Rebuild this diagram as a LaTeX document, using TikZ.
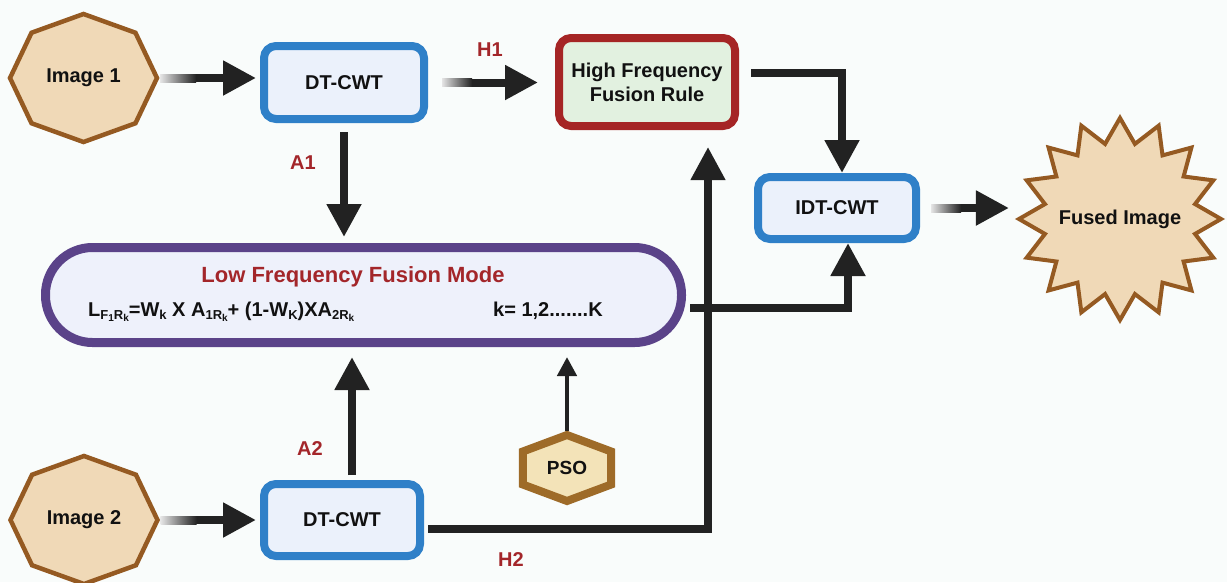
\documentclass[tikz,border=0pt]{standalone}
\usepackage{fontspec}
\setmainfont{Liberation Sans}
\usetikzlibrary{arrows.meta,shapes.geometric}
\definecolor{bgc}{HTML}{F9FCFB}
\definecolor{arrowc}{HTML}{222222}
\definecolor{txtc}{HTML}{111111}
\definecolor{redc}{HTML}{A3262A}
\definecolor{imgf}{HTML}{F0D9B7}
\definecolor{imgd}{HTML}{955A22}
\definecolor{blued}{HTML}{2F80C8}
\definecolor{bluef}{HTML}{EBF1FB}
\definecolor{hfd}{HTML}{A52525}
\definecolor{hff}{HTML}{E2F1E0}
\definecolor{lfd}{HTML}{5B4389}
\definecolor{lff}{HTML}{EEF1FB}
\definecolor{psof}{HTML}{F3E3B8}
\definecolor{psod}{HTML}{9E6B28}
\newcommand\sbx[1]{\raisebox{-0.35ex}{\fontsize{13}{13}\selectfont #1}}
\newcommand\ssbx[1]{\raisebox{-0.3ex}{\fontsize{10}{10}\selectfont #1}}
\begin{document}
\begin{tikzpicture}[x=1pt,y=-1pt,
  txt/.style={font=\bfseries\fontsize{20}{24}\selectfont, text=txtc},
  lbl/.style={font=\bfseries\fontsize{20}{24}\selectfont, text=redc},
  bluebox/.style={draw=blued, fill=bluef, line width=8pt, rounded corners=12pt, minimum width=160pt, minimum height=73pt, txt},
  oct/.style={draw=imgd, fill=imgf, line width=4.5pt, line join=miter},
  hexs/.style={draw=psod, fill=psof, line width=8pt, line join=miter},
  holder/.style={txt, inner sep=0pt},
  arr/.style={draw=arrowc, line width=8pt, -{Triangle[length=33pt,width=33pt]}},
  thinarr/.style={draw=arrowc, line width=4.5pt, -{Triangle[length=19pt,width=19pt]}},
  fadestart/.style={left color=arrowc!12, right color=arrowc}
]
\fill[bgc] (0,0) rectangle (1227,582);
\useasboundingbox (0,0) rectangle (1227,582);

% Image 1
\coordinate (c1) at (83.5,78);
\draw[oct, shift={(c1)}] (0:73.5 and 64) \foreach \a in {45,90,...,315} { -- (\a:73.5 and 64)} -- cycle;
\node[holder, minimum width=147pt, minimum height=128pt] (img1) at (c1) {Image 1};

% Image 2
\coordinate (c2) at (84,520);
\draw[oct, shift={(c2)}] (0:73.5 and 64) \foreach \a in {45,90,...,315} { -- (\a:73.5 and 64)} -- cycle;
\node[holder, minimum width=147pt, minimum height=128pt] (img2) at (c2) {Image 2};

% boxes
\node[bluebox] (dt1) at (344,82.5) {DT-CWT};
\node[bluebox, minimum width=156pt, minimum height=72pt] (dt2) at (342,520) {DT-CWT};
\node[bluebox, minimum width=158pt, minimum height=62pt] (idt) at (837,208) {IDT-CWT};
\node[draw=hfd, fill=hff, line width=8pt, rounded corners=12pt, minimum width=176pt, minimum height=88pt, txt, align=center] (hf) at (647,82) {High Frequency\\Fusion Rule};

% fused image star
\node[star, star points=16, star point ratio=1.32, minimum size=202pt, inner sep=0pt, draw=imgd, fill=imgf, line width=4pt, txt] (fused) at (1120,219) {\makebox[0pt]{Fused Image}};

% low frequency pill
\node[draw=lfd, fill=lff, line width=9pt, rounded corners=47pt, minimum width=636pt, minimum height=95pt] (lf) at (363.5,295) {};
\node[font=\bfseries\fontsize{22}{26}\selectfont, text=redc] (lftitle) at (353,277) {Low Frequency Fusion Mode};
\node[txt, anchor=base west, inner sep=0pt] (lfeq) at (88,316) {L\sbx{F\ssbx{1}R\ssbx{k}}=W\sbx{k} X A\sbx{1R\ssbx{k}}+ (1-W\sbx{K})XA\sbx{2R\ssbx{k}}};
\node[txt, anchor=base west, inner sep=0pt] (lfk) at (493,316) {k= 1,2.......K};

% PSO
\coordinate (c3) at (567,468);
\draw[hexs, shift={(c3)}] (30:51 and 33) \foreach \a in {90,150,...,330} { -- (\a:51 and 33)} -- cycle;
\node[holder, font=\bfseries\fontsize{19}{22}\selectfont, minimum width=95pt, minimum height=74pt] (pso) at (c3) {PSO};

% labels
\node[lbl] (h1) at (490,50) {H1};
\node[lbl] (a1) at (303,163) {A1};
\node[lbl] (a2) at (310,449) {A2};
\node[lbl] (h2) at (511,560) {H2};

% connectors
\draw[arr, shorten <=3pt, shorten >=4pt] (img1.east) -- (img1.east -| dt1.west);
\shade[fadestart] ([xshift=3pt,yshift=4pt]img1.east) rectangle ++(36,8);
\draw[arr, shorten <=3pt, shorten >=4pt] (img2.east) -- (img2.east -| dt2.west);
\shade[fadestart] ([xshift=3pt,yshift=4pt]img2.east) rectangle ++(36,8);
\draw[arr, shorten <=14pt, shorten >=17pt] (dt1.east) -- (dt1.east -| hf.west);
\shade[fadestart] ([xshift=14pt,yshift=4pt]dt1.east) rectangle ++(30,8);
\draw[arr, shorten <=11pt, shorten >=6pt] (idt.east) -- (idt.east -| fused.west);
\shade[fadestart] ([xshift=11pt,yshift=4pt]idt.east) rectangle ++(30,8);
\draw[arr, shorten <=9pt, shorten >=6pt] (dt1.south) -- (dt1.south |- lf.north);
\draw[arr, shorten <=12pt] ([yshift=9pt]hf.east) -| ([xshift=5pt]idt.north);
\draw[arr, shorten <=4pt] ([yshift=-13pt]lf.east) -| ([xshift=11pt]idt.south);
\draw[arr, shorten <=5pt, shorten >=10pt] ([xshift=10pt]dt2.north) -- ([xshift=10pt]dt2.north |- lf.south);
\draw[arr, line width=7.5pt, shorten <=4pt, shorten >=17pt] ([yshift=-9pt]dt2.east) -| ([xshift=61pt]hf.south);
\draw[thinarr, shorten >=10pt] (pso.north) -- (pso.north |- lf.south);
\end{tikzpicture}
\end{document}
